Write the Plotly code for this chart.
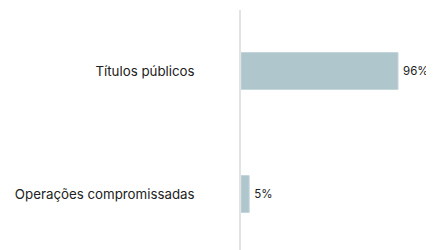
import plotly.graph_objects as go

categories = ["Operações compromissadas", "Títulos públicos"]
values = [5, 96]
labels = ["5%", "96%"]

fig = go.Figure(go.Bar(
    x=values, y=categories, orientation="h",
    width=0.3,
    marker=dict(color="#aec6cc", line=dict(color="#c4d6da", width=1)),
    text=labels, texttemplate="\u2009%{text}", textposition="outside", cliponaxis=False,
    textfont=dict(size=11.5, color="#222222", family="Inter"),
))
fig.update_layout(
    width=426, height=242,
    margin=dict(l=233, r=0, t=2, b=0),
    paper_bgcolor="white", plot_bgcolor="white",
    showlegend=False,
    font=dict(family="Inter", size=13, color="#222222"),
    xaxis=dict(range=[0, 118], showgrid=False, zeroline=False, showticklabels=False, fixedrange=True),
    yaxis=dict(range=[-0.455, 1.496], showgrid=False, zeroline=False,
               showline=True, linecolor="#e3e3e3", linewidth=1.5,
               ticks="", ticklabelstandoff=42, tickfont=dict(size=13.3, color="#222222", family="Inter")),
)
fig.write_html("out.html")
